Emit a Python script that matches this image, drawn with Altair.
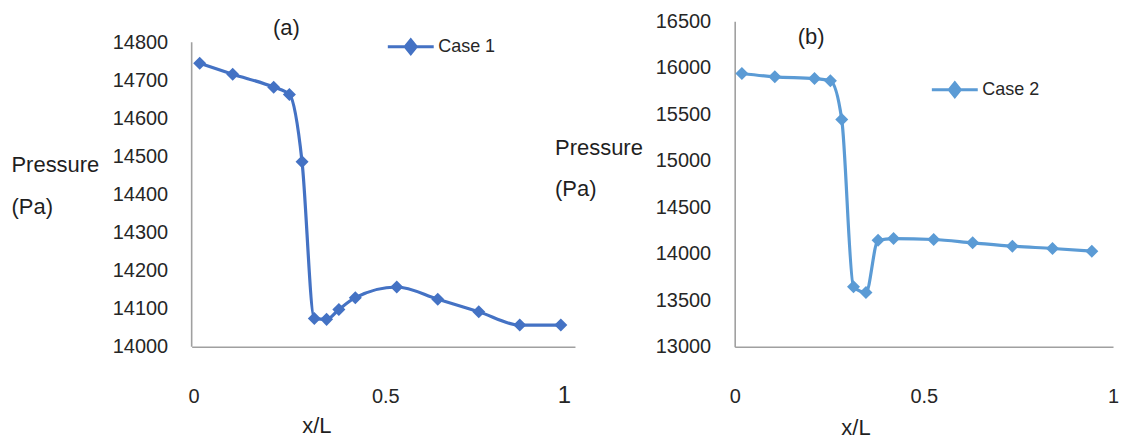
import altair as alt
import pandas as pd

# ---- data ----
x_case1 = [0.021, 0.107, 0.214, 0.255, 0.288, 0.320, 0.352, 0.384, 0.427, 0.535, 0.642, 0.749, 0.856, 0.963]
p_case1 = [14745, 14716, 14682, 14663, 14486, 14074, 14072, 14098, 14129, 14157, 14125, 14092, 14057, 14057]
x_case2 = [0.019, 0.106, 0.211, 0.253, 0.283, 0.314, 0.347, 0.379, 0.420, 0.526, 0.629, 0.734, 0.840, 0.944]
p_case2 = [15939, 15903, 15885, 15860, 15444, 13645, 13584, 14146, 14164, 14154, 14118, 14082, 14057, 14028]

series_names = ["Case 1", "Case 2"]
panel_tags = ["(a)", "(b)"]
y_ticks_a = [14000, 14100, 14200, 14300, 14400, 14500, 14600, 14700, 14800]
y_ticks_b = [13000, 13500, 14000, 14500, 15000, 15500, 16000, 16500]
x_ticks = [0, 0.5, 1]
y_domain_a = [14000, 14855]
y_domain_b = [13000, 16500]
tag_a = {"x": [0.247], "p": [14837]}
tag_b = {"x": [0.202], "p": [16331]}
y_title = ["Pressure", "(Pa)"]
x_title = "x/L"

FONT = "Liberation Sans"
TEXT = "#1f1f1f"
TICK = "#262626"
AXIS = "#a0a0a0"
LEGEND_PATH = "M-1,0L1,0M-0.24,0L0,-0.3L0.24,0L0,0.3Z"


def panel(xs, ps, name, color, yticks, ydom, width, tag, tagdf,
          ytitle_x, ytitle_y, ytitle_lh, xtitle_x, xtitle_y,
          leg_x, leg_y, draw_rule, one_cond):
    df = pd.DataFrame({"x": xs, "p": ps, "series": [name] * len(xs)})
    xlab_size = 20
    xlab_off = 0
    if one_cond:
        xlab_size = {"condition": {"test": "datum.value === 1", "value": 24}, "value": 20}
        xlab_off = {"condition": {"test": "datum.value === 1", "value": -11}, "value": 2}
    x_enc = alt.X(
        "x:Q",
        scale=alt.Scale(domain=[0, 1], nice=False, zero=False),
        axis=alt.Axis(
            values=x_ticks, format="~g", grid=False, ticks=False, tickSize=0,
            domain=True, domainColor=AXIS, domainWidth=1.6, labelFlush=False,
            labelFont=FONT, labelFontSize=xlab_size, labelColor=TICK,
            labelBaseline="alphabetic", labelPadding=56, labelOffset=xlab_off,
            title=x_title, titleFont=FONT, titleFontSize=22, titleFontWeight="normal",
            titleColor=TEXT, titleX=xtitle_x, titleY=xtitle_y,
            titleAlign="center", titleBaseline="alphabetic",
        ),
    )
    y_enc = alt.Y(
        "p:Q",
        scale=alt.Scale(domain=ydom, nice=False, zero=False),
        axis=alt.Axis(
            values=yticks, format="d", grid=False, ticks=False, tickSize=0,
            domain=not draw_rule, domainColor=AXIS, domainWidth=1.6, labelFlush=False,
            labelFont=FONT, labelFontSize=20, labelColor=TICK, labelPadding=24,
            title=y_title, titleFont=FONT, titleFontSize=22, titleFontWeight="normal",
            titleColor=TEXT, titleAngle=0, titleAlign="left", titleBaseline="alphabetic",
            titleX=ytitle_x, titleY=ytitle_y, titleLineHeight=ytitle_lh,
        ),
    )
    color_enc = alt.Color(
        "series:N",
        scale=alt.Scale(domain=[name], range=[color]),
        legend=alt.Legend(
            orient="none", legendX=leg_x, legendY=leg_y, title=None, padding=0,
            symbolType=LEGEND_PATH, symbolSize=2116, symbolStrokeWidth=3,
            symbolFillColor=color, symbolStrokeColor=color, symbolOpacity=1,
            labelFont=FONT, labelFontSize=18, labelColor=TICK, labelOffset=3,
        ),
    )
    base = alt.Chart(df)
    line = base.mark_line(strokeWidth=3.2, interpolate="monotone").encode(
        x=x_enc, y=y_enc, color=color_enc
    )
    pts = base.mark_point(shape="diamond", filled=True, size=170, opacity=1).encode(
        x="x:Q", y="p:Q", color=alt.Color("series:N", legend=None)
    )
    tdf = pd.DataFrame({"x": tagdf["x"], "p": tagdf["p"], "t": [tag]})
    txt = alt.Chart(tdf).mark_text(
        font=FONT, fontSize=22, color=TEXT, align="center", baseline="middle"
    ).encode(x="x:Q", y="p:Q", text="t:N")
    layers = []
    if draw_rule:
        rdf = pd.DataFrame({"x": [0], "p": [yticks[0]], "p2": [yticks[-1]]})
        rule = alt.Chart(rdf).mark_rule(color=AXIS, strokeWidth=1.6).encode(
            x="x:Q", y="p:Q", y2="p2:Q"
        )
        layers.append(rule)
    layers += [line, pts, txt]
    return alt.layer(*layers).properties(width=width, height=326)


left = panel(x_case1, p_case1, series_names[0], "#4472C4", y_ticks_a, y_domain_a, 384,
             panel_tags[0], tag_a, -181, 150, 42, 125, 86, 195, 1, True, True)
right = panel(x_case2, p_case2, series_names[1], "#5B9BD5", y_ticks_b, y_domain_b, 379,
              panel_tags[1], tag_b, -180.5, 133, 41, 121, 88, 196, 44, False, False)

chart = (
    alt.hconcat(left, right, spacing=160, bounds="flush")
    .resolve_scale(color="independent", x="independent", y="independent")
    .properties(padding={"left": 11, "top": 11, "right": 5, "bottom": 3})
    .configure_view(stroke=None)
)

chart.save("out.html", embed_options={"renderer": "svg", "actions": False})
